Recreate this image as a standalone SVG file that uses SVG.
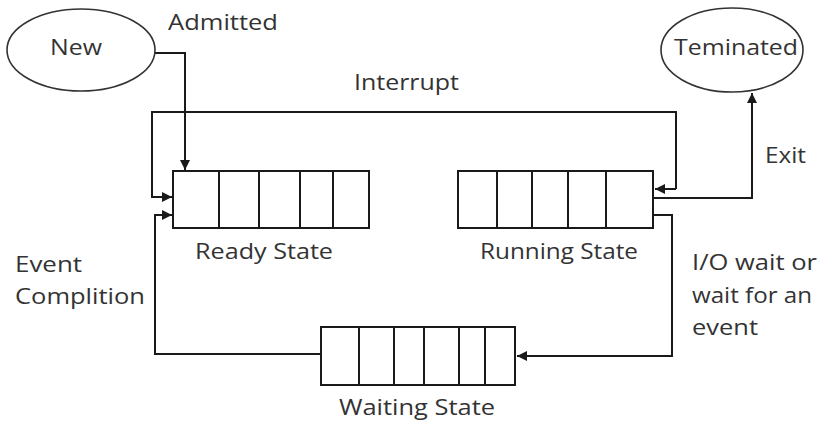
<svg xmlns="http://www.w3.org/2000/svg" width="820" height="422" viewBox="0 0 820 422">
<style>
.bg{fill:#ffffff}
.box{fill:#ffffff;stroke:#1a1a1a;stroke-width:2}
.div{stroke:#1a1a1a;stroke-width:2}
.ell{fill:#ffffff;stroke:#333333;stroke-width:1.6}
.con{fill:none;stroke:#1a1a1a;stroke-width:2}
.t{font-family:"Open Sans","Noto Sans","Liberation Sans",sans-serif;font-size:22px;fill:#333333}
</style>
<defs>
<marker id="ah" markerUnits="userSpaceOnUse" markerWidth="12" markerHeight="10" refX="10" refY="5" orient="auto">
<path d="M0,0 L10,5 L0,10 Z" fill="#1a1a1a"/>
</marker>
</defs>
<rect class="bg" x="0" y="0" width="820" height="422"/>

<g id="connectors">
<polyline class="con" points="155,53 185,53 185,170" marker-end="url(#ah)"/>
<polyline class="con" points="676,189 676,112 152,112 152,197 172,197" marker-end="url(#ah)"/>
<line class="con" x1="676" y1="189" x2="655" y2="189" marker-end="url(#ah)"/>
<polyline class="con" points="654,198 752,198 752,93" marker-end="url(#ah)"/>
<polyline class="con" points="654,215 672,215 672,356 517,356" marker-end="url(#ah)"/>
<polyline class="con" points="320,354 155,354 155,215 172,215" marker-end="url(#ah)"/>
</g>

<g id="new">
<ellipse class="ell" cx="81" cy="50" rx="74" ry="41"/>
<text class="t" x="50" y="55" textLength="52" lengthAdjust="spacingAndGlyphs">New</text>
</g>

<g id="terminated">
<ellipse class="ell" cx="732" cy="50" rx="71" ry="42"/>
<text class="t" x="674" y="55" textLength="124" lengthAdjust="spacingAndGlyphs">Teminated</text>
</g>

<g id="ready">
<rect class="box" x="173" y="171" width="196" height="57"/>
<line class="div" x1="219" y1="171" x2="219" y2="228"/>
<line class="div" x1="259" y1="171" x2="259" y2="228"/>
<line class="div" x1="300" y1="171" x2="300" y2="228"/>
<line class="div" x1="333" y1="171" x2="333" y2="228"/>
<text class="t" x="195" y="259" textLength="138" lengthAdjust="spacingAndGlyphs">Ready State</text>
</g>

<g id="running">
<rect class="box" x="458" y="171" width="195" height="57"/>
<line class="div" x1="497" y1="171" x2="497" y2="228"/>
<line class="div" x1="532" y1="171" x2="532" y2="228"/>
<line class="div" x1="568" y1="171" x2="568" y2="228"/>
<line class="div" x1="606" y1="171" x2="606" y2="228"/>
<text class="t" x="480" y="259" textLength="158" lengthAdjust="spacingAndGlyphs">Running State</text>
</g>

<g id="waiting">
<rect class="box" x="321" y="327" width="194" height="58"/>
<line class="div" x1="359" y1="327" x2="359" y2="385"/>
<line class="div" x1="394" y1="327" x2="394" y2="385"/>
<line class="div" x1="424" y1="327" x2="424" y2="385"/>
<line class="div" x1="459" y1="327" x2="459" y2="385"/>
<line class="div" x1="485" y1="327" x2="485" y2="385"/>
<text class="t" x="339" y="415" textLength="156" lengthAdjust="spacingAndGlyphs">Waiting State</text>
</g>

<g id="labels">
<text class="t" x="168" y="30" textLength="110" lengthAdjust="spacingAndGlyphs">Admitted</text>
<text class="t" x="354" y="90" textLength="105" lengthAdjust="spacingAndGlyphs">Interrupt</text>
<text class="t" x="765" y="163" textLength="41" lengthAdjust="spacingAndGlyphs">Exit</text>
<text class="t" x="15" y="272" textLength="67" lengthAdjust="spacingAndGlyphs">Event</text>
<text class="t" x="15" y="304" textLength="130" lengthAdjust="spacingAndGlyphs">Complition</text>
<text class="t" x="692" y="270" textLength="125" lengthAdjust="spacingAndGlyphs">I/O wait or</text>
<text class="t" x="692" y="303" textLength="120" lengthAdjust="spacingAndGlyphs">wait for an</text>
<text class="t" x="692" y="335" textLength="66" lengthAdjust="spacingAndGlyphs">event</text>
</g>
</svg>
